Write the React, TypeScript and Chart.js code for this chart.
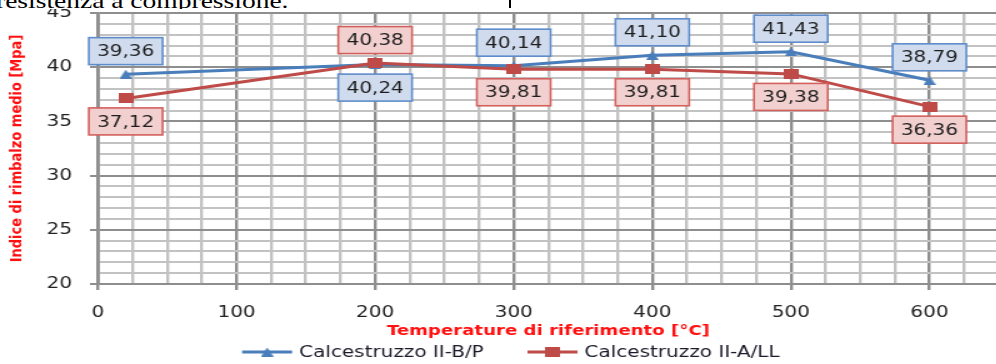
import React, { useEffect, useRef } from 'react';
import { Chart, registerables } from 'chart.js';

Chart.register(...registerables);

// ---- data ----
const temperatures = [20, 200, 300, 400, 500, 600];
const seriesBP = [39.36, 40.24, 40.14, 41.1, 41.43, 38.79];
const seriesALL = [37.12, 40.38, 39.81, 39.81, 39.38, 36.36];
const seriesNames = ['Calcestruzzo II-B/P', 'Calcestruzzo II-A/LL'];
const xTickLabels = [0, 100, 200, 300, 400, 500, 600];
const yTickLabels = [20, 25, 30, 35, 40, 45];
const labelSidesBP = ['up', 'down', 'up', 'up', 'up', 'up'];
const labelSidesALL = ['down', 'up', 'down', 'down', 'down', 'down'];

// ---- style ----
const SX = 1.25; // horizontal stretch of the whole picture
const W = 807;
const H = 364;
const BLUE = '#4a7ebb';
const RED = '#be4b48';
const MAJOR = '#8e8e8e';
const MINOR = '#c2c2c2';
const FONT = '"DejaVu Sans", sans-serif';

function makeTriangle(color: string) {
  const c = document.createElement('canvas');
  c.width = 10;
  c.height = 9;
  const g = c.getContext('2d')!;
  g.fillStyle = color;
  g.beginPath();
  g.moveTo(5, 0);
  g.lineTo(10, 9);
  g.lineTo(0, 9);
  g.closePath();
  g.fill();
  return c;
}

function makeSquare(color: string) {
  const c = document.createElement('canvas');
  c.width = 12;
  c.height = 10;
  const g = c.getContext('2d')!;
  g.fillStyle = color;
  g.fillRect(0, 0, 12, 10);
  return c;
}

const dataLabelPlugin = {
  id: 'boxLabels',
  afterDatasetsDraw(chart: any) {
    const ctx = chart.ctx;
    ctx.save();
    chart.data.datasets.forEach((ds: any, di: number) => {
      const meta = chart.getDatasetMeta(di);
      meta.data.forEach((pt: any, i: number) => {
        const v = ds.data[i].y as number;
        const side = ds.labelSides[i];
        const cx = pt.x;
        const cy = pt.y + (side === 'up' ? -23 : 23);
        const bw = 59;
        const bh = 27;
        ctx.fillStyle = ds.boxFill;
        ctx.fillRect(cx - bw / 2, cy - bh / 2, bw, bh);
        ctx.strokeStyle = ds.boxBorder;
        ctx.lineWidth = 1.6;
        ctx.strokeRect(cx - bw / 2, cy - bh / 2, bw, bh);
        ctx.fillStyle = '#1e1e1e';
        ctx.font = '16px ' + FONT;
        ctx.textAlign = 'center';
        ctx.textBaseline = 'middle';
        ctx.fillText(v.toFixed(2).replace('.', ','), cx, cy + 1);
      });
    });
    ctx.restore();
  },
};

const legendPlugin = {
  id: 'lineLegend',
  afterDraw(chart: any) {
    const ctx = chart.ctx;
    ctx.save();
    ctx.font = '16px ' + FONT;
    const ds = chart.data.datasets;
    const lineLen = 40;
    const gapText = 5.6;
    const gapItem = 35;
    const widths = ds.map((d: any) => ctx.measureText(d.label).width);
    let total = 0;
    widths.forEach((w: number) => (total += lineLen + gapText + w));
    total += gapItem * (ds.length - 1);
    const cx = (chart.chartArea.left + chart.chartArea.right) / 2 - 30;
    let x = cx - total / 2;
    const y = 352;
    ds.forEach((d: any, i: number) => {
      ctx.strokeStyle = d.borderColor;
      ctx.lineWidth = 3;
      ctx.beginPath();
      ctx.moveTo(x, y);
      ctx.lineTo(x + lineLen, y);
      ctx.stroke();
      const img = d.pointStyle;
      ctx.drawImage(img, x + lineLen / 2 - img.width / 2, y - img.height / 2);
      ctx.fillStyle = '#1a1a2a';
      ctx.textAlign = 'left';
      ctx.textBaseline = 'middle';
      ctx.fillText(d.label, x + lineLen + gapText, y + 1);
      x += lineLen + gapText + widths[i] + gapItem;
    });
    ctx.restore();
  },
};

export default function App() {
  const ref = useRef<HTMLCanvasElement | null>(null);

  useEffect(() => {
    document.body.style.overflow = 'hidden';
    const canvas = ref.current!;
    const chart = new Chart(canvas, {
      type: 'line',
      data: {
        datasets: [
          {
            label: seriesNames[0],
            data: temperatures.map((t, i) => ({ x: t, y: seriesBP[i] })),
            borderColor: BLUE,
            backgroundColor: BLUE,
            borderWidth: 3,
            pointStyle: makeTriangle(BLUE),
            pointRadius: 5,
            tension: 0,
            fill: false,
            order: 1,
            labelSides: labelSidesBP,
            boxFill: '#d0dcee',
            boxBorder: '#5f8ccb',
          } as any,
          {
            label: seriesNames[1],
            data: temperatures.map((t, i) => ({ x: t, y: seriesALL[i] })),
            borderColor: RED,
            backgroundColor: RED,
            borderWidth: 3,
            pointStyle: makeSquare(RED),
            pointRadius: 5,
            tension: 0,
            fill: false,
            order: 0,
            labelSides: labelSidesALL,
            boxFill: '#f2d0cf',
            boxBorder: '#d2605d',
          } as any,
        ],
      },
      options: {
        responsive: false,
        animation: false,
        layout: { padding: { top: 13, bottom: 24, left: 0, right: 4.8 } },
        plugins: {
          legend: { display: false },
          tooltip: { enabled: false },
        },
        scales: {
          x: {
            type: 'linear',
            min: 0,
            max: 650,
            afterFit: (s: any) => {
              s.height = 56;
              s.paddingLeft = 0;
              s.paddingRight = 0;
            },
            ticks: {
              stepSize: 25,
              maxTicksLimit: 100,
              autoSkip: false,
              maxRotation: 0,
              padding: 13,
              color: '#222',
              font: { family: FONT, size: 16 },
              callback: (v: any) => (xTickLabels.includes(Number(v)) ? String(v) : ''),
            },
            grid: {
              color: (c: any) => (c.tick && c.tick.value % 100 === 0 ? MAJOR : MINOR),
              lineWidth: 2.4,
              tickLength: 6,
              tickColor: (c: any) =>
                c.tick && xTickLabels.includes(c.tick.value) ? MAJOR : 'rgba(0,0,0,0)',
            },
            border: { color: MAJOR, width: 2 },
            title: {
              display: true,
              text: 'Temperature di riferimento [°C]',
              color: '#ff1010',
              font: { family: FONT, size: 14.5, weight: 'bold' },
              padding: { top: 0, bottom: 0 },
            },
          },
          y: {
            type: 'linear',
            min: 20,
            max: 45,
            afterFit: (s: any) => {
              s.width = 78.4;
              s.paddingTop = 0;
              s.paddingBottom = 0;
            },
            ticks: {
              stepSize: 1,
              maxTicksLimit: 100,
              autoSkip: false,
              padding: 14.4,
              color: '#222',
              font: { family: FONT, size: 16 },
              callback: (v: any) => (yTickLabels.includes(Number(v)) ? String(v) : ''),
            },
            grid: {
              color: (c: any) => (c.tick && c.tick.value % 5 === 0 ? MAJOR : MINOR),
              lineWidth: 2,
              tickLength: 6.4,
              tickColor: (c: any) =>
                c.tick && yTickLabels.includes(c.tick.value) ? MAJOR : 'rgba(0,0,0,0)',
            },
            border: { color: MAJOR, width: 1.8 },
            title: {
              display: true,
              text: 'Indice di rimbalzo medio [Mpa]',
              color: '#ff1010',
              font: { family: FONT, size: 13, weight: 'bold' },
              padding: { top: 5.8, bottom: 0 },
            },
          },
        },
      } as any,
      plugins: [dataLabelPlugin, legendPlugin],
    });
    return () => chart.destroy();
  }, []);

  return (
    <div style={{ position: 'fixed', left: 0, top: 0, width: 996, height: H, overflow: 'hidden', background: '#fff' }}>
      <div style={{ position: 'absolute', left: 0, top: 0, width: W, height: H, transform: `scaleX(${SX})`, transformOrigin: '0 0' }}>
        <canvas ref={ref} width={W} height={H} style={{ display: 'block' }} />
      </div>
      <div style={{ position: 'absolute', left: 0, top: 0, width: 996, height: 9, overflow: 'hidden', background: '#fff' }}>
        <div
          style={{
            position: 'absolute',
            left: -4,
            top: -12,
            whiteSpace: 'nowrap',
            fontFamily: '"Liberation Serif", "Times New Roman", serif',
            fontSize: 22,
            color: '#000',
            transform: `scaleX(${SX})`,
            transformOrigin: '0 0',
          }}
        >
          resistenza a compressione.
        </div>
        <div style={{ position: 'absolute', left: 509, top: 0, width: 2, height: 8, background: '#000' }} />
      </div>
    </div>
  );
}
